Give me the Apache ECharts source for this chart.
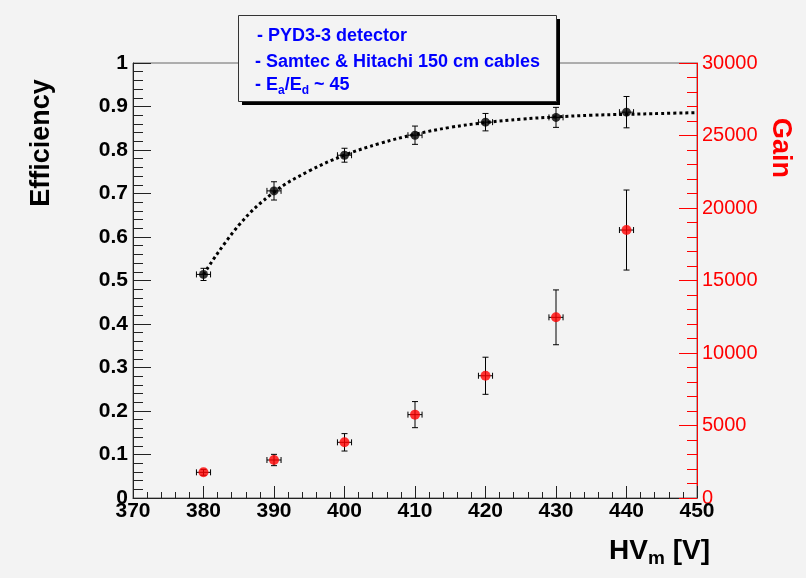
<!DOCTYPE html>
<html>
<head>
<meta charset="utf-8">
<script src="https://cdn.jsdelivr.net/npm/echarts@6/dist/echarts.min.js"></script>
<style>
html, body { margin: 0; padding: 0; background: #f3f3f3; }
#main { width: 806px; height: 578px; }
</style>
</head>
<body>
<div id="main"></div>
<script>
// measured points
const hv = [380, 390, 400, 410, 420, 430, 440];
const hvErr = [1, 1, 1, 1, 1, 1, 1];
const efficiency = [0.514, 0.706, 0.788, 0.834, 0.864, 0.875, 0.887];
const effErr = [0.014, 0.021, 0.016, 0.021, 0.020, 0.023, 0.036];
const gain = [1770, 2620, 3840, 5750, 8430, 12460, 18480];
const gainErr = [200, 390, 600, 900, 1280, 1890, 2760];

// dotted fit curve
const fitHv = [380, 385, 390, 395, 400, 405, 410, 415, 420, 425, 430, 435, 440, 445, 450];
const fitEff = [0.514, 0.627, 0.703, 0.752, 0.788, 0.815, 0.836, 0.852, 0.863, 0.871, 0.876, 0.880, 0.882, 0.884, 0.886];

const FONT = '"Liberation Sans", Arial, sans-serif';

const chart = echarts.init(document.getElementById('main'));

// error bars with small end caps, drawn through the axes
function errorBars(api) {
    const x = api.value(0), y = api.value(1), ey = api.value(2), ex = api.value(3);
    const lo = api.coord([x, y - ey]);
    const hi = api.coord([x, y + ey]);
    const l = api.coord([x - ex, y]);
    const r = api.coord([x + ex, y]);
    const st = { stroke: '#000', lineWidth: 1 };
    const c = 3;
    return {
        type: 'group',
        children: [
            { type: 'line', shape: { x1: lo[0], y1: lo[1], x2: hi[0], y2: hi[1] }, style: st },
            { type: 'line', shape: { x1: lo[0] - c, y1: lo[1], x2: lo[0] + c, y2: lo[1] }, style: st },
            { type: 'line', shape: { x1: hi[0] - c, y1: hi[1], x2: hi[0] + c, y2: hi[1] }, style: st },
            { type: 'line', shape: { x1: l[0], y1: l[1], x2: r[0], y2: r[1] }, style: st },
            { type: 'line', shape: { x1: l[0], y1: l[1] - c, x2: l[0], y2: l[1] + c }, style: st },
            { type: 'line', shape: { x1: r[0], y1: r[1] - c, x2: r[0], y2: r[1] + c }, style: st }
        ]
    };
}

const effData = hv.map((x, i) => [x, efficiency[i], effErr[i], hvErr[i]]);
const gainData = hv.map((x, i) => [x, gain[i], gainErr[i], hvErr[i]]);
const fitData = fitHv.map((x, i) => [x, fitEff[i]]);

const option = {
    backgroundColor: '#f3f3f3',
    animation: false,
    grid: {
        left: 133, right: 109, top: 63, bottom: 80,
        show: true, borderColor: '#666', borderWidth: 1, backgroundColor: '#f3f3f3'
    },
    xAxis: {
        type: 'value', min: 370, max: 450, interval: 10,
        axisLine: { show: true, onZero: false, lineStyle: { color: '#222', width: 1 } },
        axisTick: { show: true, inside: true, length: 12, lineStyle: { color: '#222' } },
        minorTick: { show: true, splitNumber: 5, length: 6, lineStyle: { color: '#222' } },
        splitLine: { show: false },
        axisLabel: { color: '#000', fontFamily: FONT, fontWeight: 'bold', fontSize: 21, margin: 3 }
    },
    yAxis: [{
        type: 'value', min: 0, max: 1, interval: 0.1,
        axisLine: { show: true, lineStyle: { color: '#222', width: 1 } },
        axisTick: { show: true, inside: true, length: 18, lineStyle: { color: '#222' } },
        minorTick: { show: true, splitNumber: 5, length: 10, lineStyle: { color: '#222' } },
        splitLine: { show: false },
        axisLabel: { color: '#000', fontFamily: FONT, fontWeight: 'bold', fontSize: 21, margin: 5 }
    }, {
        type: 'value', min: 0, max: 30000, interval: 5000, position: 'right',
        axisLine: { show: true, lineStyle: { color: '#ff0000', width: 1 } },
        axisTick: { show: true, inside: true, length: 18, lineStyle: { color: '#ff0000' } },
        minorTick: { show: true, splitNumber: 5, length: 10, lineStyle: { color: '#ff0000' } },
        splitLine: { show: false },
        axisLabel: { color: '#ff0000', fontFamily: FONT, fontSize: 20, margin: 5, formatter: v => String(v) }
    }],
    series: [{
        type: 'line', data: fitData, smooth: 0.4, symbol: 'none', z: 2,
        lineStyle: { color: '#000', width: 3, type: [3, 3] }
    }, {
        type: 'custom', data: effData, renderItem: (p, api) => errorBars(api), z: 3
    }, {
        type: 'scatter', data: effData, symbolSize: 9, z: 4,
        itemStyle: { color: '#000' }
    }, {
        type: 'custom', yAxisIndex: 1, data: gainData, renderItem: (p, api) => errorBars(api), z: 3
    }, {
        type: 'scatter', yAxisIndex: 1, data: gainData, symbolSize: 10, z: 4,
        itemStyle: { color: '#ff0000' }
    }],
    graphic: [
        // legend box with shadow
        { type: 'rect', left: 242, top: 19, shape: { width: 318, height: 86 }, style: { fill: '#000' }, z: 10 },
        { type: 'rect', left: 238, top: 15, shape: { width: 318, height: 86 }, style: { fill: '#f3f3f3', stroke: '#333', lineWidth: 1 }, z: 11 },
        { type: 'text', left: 257, top: 27, z: 12,
          style: { text: '- PYD3-3 detector', fill: '#0000ff', font: 'bold 18px ' + FONT } },
        { type: 'text', left: 255, top: 53, z: 12,
          style: { text: '- Samtec & Hitachi 150 cm cables', fill: '#0000ff', font: 'bold 18px ' + FONT } },
        { type: 'text', left: 255, top: 76, z: 12,
          style: {
              text: '- E{s|a}/E{s|d} ~ 45', fill: '#0000ff', font: 'bold 18px ' + FONT,
              rich: { s: { fill: '#0000ff', font: 'bold 12px ' + FONT, padding: [11, 0, 0, 0] } }
          } },
        // axis titles
        { type: 'text', x: 42, y: 143, rotation: Math.PI / 2, z: 12,
          style: { text: 'Efficiency', fill: '#000', font: 'bold 27px ' + FONT, align: 'center', verticalAlign: 'middle' } },
        { type: 'text', x: 780, y: 148, rotation: -Math.PI / 2, z: 12,
          style: { text: 'Gain', fill: '#ff0000', font: 'bold 27px ' + FONT, align: 'center', verticalAlign: 'middle' } },
        { type: 'text', right: 96, top: 537, z: 12,
          style: {
              text: 'HV{s|m} [V]', fill: '#000', font: 'bold 28px ' + FONT,
              rich: { s: { fill: '#000', font: 'bold 19px ' + FONT, padding: [15, 0, 0, 0] } }
          } }
    ]
};

chart.setOption(option);
</script>
</body>
</html>
